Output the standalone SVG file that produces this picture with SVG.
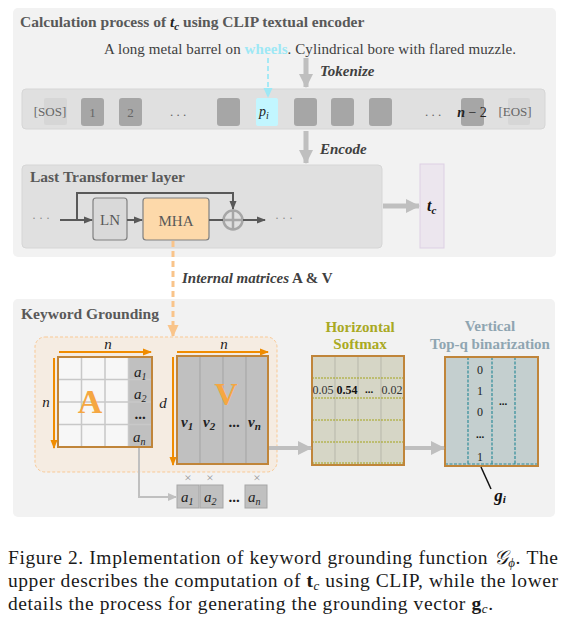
<svg xmlns="http://www.w3.org/2000/svg" width="573" height="629" viewBox="0 0 573 629">
<defs>
<style>
text{font-family:"Liberation Serif","Times New Roman",serif;}
.ttl{font-size:15.5px;font-weight:bold;fill:#595959;}
.tok{font-size:13px;fill:#666;}
.bi{font-weight:bold;font-style:italic;}
.it{font-style:italic;}
.m{font-size:15px;fill:#222;}
.cap{font-size:19.5px;fill:#1a1a1a;}
.gbox{fill:#a6a6a6;}
.cell{fill:#c0c0c0;}
.brd{fill:none;stroke:#c0853a;stroke-width:2;}
</style>
<marker id="mGray" markerUnits="userSpaceOnUse" markerWidth="16" markerHeight="16" refX="13" refY="8" orient="auto"><path d="M0,1 L14,8 L0,15 Z" fill="#bfbfbf"/></marker>
<marker id="mDark" markerUnits="userSpaceOnUse" markerWidth="10" markerHeight="10" refX="8" refY="5" orient="auto"><path d="M0,1.5 L9,5 L0,8.5 Z" fill="#595959"/></marker>
<marker id="mOr" markerUnits="userSpaceOnUse" markerWidth="10" markerHeight="10" refX="8" refY="5" orient="auto"><path d="M0,1.5 L9,5 L0,8.5 Z" fill="#f08c00"/></marker>
<marker id="mCy" markerUnits="userSpaceOnUse" markerWidth="12" markerHeight="12" refX="9" refY="6" orient="auto"><path d="M0,1.5 L10,6 L0,10.5 Z" fill="#9ee8f5"/></marker>
<marker id="mPe" markerUnits="userSpaceOnUse" markerWidth="14" markerHeight="14" refX="11" refY="7" orient="auto"><path d="M0,1.5 L12,7 L0,12.5 Z" fill="#f9c48a"/></marker>
<marker id="mLt" markerUnits="userSpaceOnUse" markerWidth="10" markerHeight="10" refX="8" refY="5" orient="auto"><path d="M0,1 L9,5 L0,9 Z" fill="#c0c0c0"/></marker>
</defs>

<!-- Top panel -->
<g id="top-panel">
<rect x="13" y="8" width="543" height="249" rx="5" fill="#f2f2f2"/>
<text class="ttl" x="20" y="27">Calculation process of <tspan class="bi" fill="#222">t</tspan><tspan class="bi" fill="#222" font-size="11" dy="3">c</tspan><tspan dy="-3"> using CLIP textual encoder</tspan></text>
<text x="104" y="54" font-size="15" fill="#404040" textLength="412" lengthAdjust="spacing">A long metal barrel on <tspan font-weight="bold" fill="#9ee8f5">wheels</tspan>. Cylindrical bore with flared muzzle.</text>
</g>

<g id="token-bar">
<rect x="22" y="89" width="523" height="40" rx="4" fill="#e0e0e0" stroke="#d6d6d6"/>
<rect x="44" y="98" width="23" height="27" rx="2" fill="#d6d6d6"/>
<text class="tok" x="50" y="116" text-anchor="middle">[SOS]</text>
<rect class="gbox" x="81" y="98" width="23" height="28" rx="3"/>
<text class="tok" x="92.5" y="117" text-anchor="middle" fill="#333">1</text>
<rect class="gbox" x="119" y="98" width="23" height="28" rx="3"/>
<text class="tok" x="130.5" y="117" text-anchor="middle" fill="#333">2</text>
<text class="tok" x="178" y="116" text-anchor="middle" fill="#888">. . .</text>
<rect class="gbox" x="217" y="98" width="23" height="28" rx="3"/>
<rect x="256" y="98" width="22" height="28" rx="2" fill="#c2f6ff"/>
<text x="264" y="116" font-size="14" class="it" fill="#222" text-anchor="middle">p<tspan font-size="10" dy="3">i</tspan></text>
<rect class="gbox" x="294" y="98" width="23" height="28" rx="3"/>
<rect class="gbox" x="331" y="98" width="23" height="28" rx="3"/>
<rect class="gbox" x="369" y="98" width="23" height="28" rx="3"/>
<text class="tok" x="433" y="116" text-anchor="middle" fill="#888">. . .</text>
<rect class="gbox" x="461" y="98" width="23" height="28" rx="3"/>
<text x="472" y="117" font-size="14" fill="#222" text-anchor="middle"><tspan class="bi">n</tspan> − 2</text>
<rect x="508" y="98" width="22" height="27" rx="2" fill="#d6d6d6"/>
<text class="tok" x="515" y="116" text-anchor="middle">[EOS]</text>
</g>

<g id="transformer">
<rect x="22" y="165" width="360" height="83" rx="4" fill="#e0e0e0" stroke="#d6d6d6"/>
<text class="ttl" x="30" y="182">Last Transformer layer</text>
<text x="41" y="222" font-size="12" fill="#888" text-anchor="middle">· · ·</text>
<text x="284" y="222" font-size="12" fill="#888" text-anchor="middle">· · ·</text>
</g>
<g id="ln">
<rect x="93" y="198" width="34" height="42" rx="3" fill="#d9d9d9" stroke="#808080" stroke-width="1.2"/>
<text x="110" y="225" font-size="15" fill="#595959" text-anchor="middle">LN</text>
</g>
<g id="mha">
<rect x="143" y="198" width="66" height="42" rx="3" fill="#fdd9aa" stroke="#808080" stroke-width="1.2"/>
<text x="176" y="226" font-size="15" fill="#595959" text-anchor="middle">MHA</text>
</g>
<g id="add">
<circle cx="233" cy="220" r="9.5" fill="none" stroke="#a6a6a6" stroke-width="2.5"/>
<path d="M223.5,220 H242.5 M233,210.5 V229.5" stroke="#a6a6a6" stroke-width="2.5"/>
</g>
<g id="tc">
<rect x="420" y="164" width="24" height="84" fill="#ece6ee" stroke="#ddd0e4"/>
<text x="427" y="211" font-size="16" class="bi" fill="#111">t<tspan font-size="11" dy="3">c</tspan></text>
</g>

<!-- Bottom panel -->
<g id="bottom-panel">
<rect x="13" y="299" width="542" height="218" rx="5" fill="#f2f2f2"/>
<text class="ttl" x="21" y="319">Keyword Grounding</text>
<rect x="35" y="337" width="242" height="135" rx="10" fill="#f5ece2" stroke="#f9c995" stroke-width="1" stroke-dasharray="3,2"/>
</g>

<g id="matrix-A">
<rect x="58" y="357" width="94" height="90" fill="#f7f7f7"/>
<rect class="cell" x="128.5" y="357" width="23.5" height="90"/>
<path d="M81.5,357 V447 M105,357 V447 M128.5,357 V447 M58,379.5 H152 M58,402 H152 M58,424.5 H152" stroke="#c8c8c8" stroke-width="1.5"/>
<rect class="brd" x="58" y="357" width="94" height="90"/>
<text x="90" y="413" font-size="34" font-weight="bold" fill="#f5a742" text-anchor="middle">A</text>
<text class="m it" x="134" y="377">a<tspan font-size="10" dy="3">1</tspan></text>
<text class="m it" x="134" y="399">a<tspan font-size="10" dy="3">2</tspan></text>
<text class="m" x="140" y="419" font-weight="bold" text-anchor="middle" font-size="12">...</text>
<text class="m it" x="133" y="442">a<tspan font-size="10" dy="3">n</tspan></text>
<text class="m it" x="108" y="349" font-size="16" text-anchor="middle">n</text>
<text class="m it" x="46" y="407" font-size="16" text-anchor="middle">n</text>
</g>

<g id="matrix-V">
<rect class="cell" x="177" y="356" width="91" height="108"/>
<path d="M200,356 V464 M223,356 V464 M246,356 V464" stroke="#a8a8a8" stroke-width="1.2"/>
<rect class="brd" x="177" y="356" width="91" height="108"/>
<text x="226" y="405" font-size="32" font-weight="bold" fill="#f5a742" text-anchor="middle">V</text>
<text class="m bi" x="181" y="427" font-size="17">v<tspan font-size="11" dy="3">1</tspan></text>
<text class="m bi" x="203" y="427" font-size="17">v<tspan font-size="11" dy="3">2</tspan></text>
<text class="m" x="234" y="427" font-weight="bold" text-anchor="middle" font-size="12">...</text>
<text class="m bi" x="248" y="427" font-size="17">v<tspan font-size="11" dy="3">n</tspan></text>
<text class="m it" x="224" y="349" font-size="16" text-anchor="middle">n</text>
<text class="m it" x="163" y="408" font-size="16" text-anchor="middle">d</text>
</g>

<g id="weights">
<text x="188" y="482" font-size="13" fill="#999" text-anchor="middle">×</text>
<text x="210" y="482" font-size="13" fill="#999" text-anchor="middle">×</text>
<text x="257" y="482" font-size="13" fill="#999" text-anchor="middle">×</text>
<rect class="cell" x="177" y="485" width="22" height="23" stroke="#a6a6a6"/>
<rect class="cell" x="200" y="485" width="23" height="23" stroke="#a6a6a6"/>
<rect class="cell" x="245" y="485" width="22" height="23" stroke="#a6a6a6"/>
<text class="m it" x="181" y="502">a<tspan font-size="10" dy="3">1</tspan></text>
<text class="m it" x="204" y="502">a<tspan font-size="10" dy="3">2</tspan></text>
<text class="m" x="234" y="502" font-weight="bold" text-anchor="middle" font-size="12">...</text>
<text class="m it" x="248" y="502">a<tspan font-size="10" dy="3">n</tspan></text>
</g>

<g id="softmax">
<text x="360" y="332" font-size="15" font-weight="bold" fill="#a9a923" text-anchor="middle">Horizontal</text>
<text x="360" y="349" font-size="15" font-weight="bold" fill="#a9a923" text-anchor="middle">Softmax</text>
<rect x="312" y="356" width="92" height="109" fill="#d6d6c6"/>
<path d="M335,356 V465 M358,356 V465 M381,356 V465" stroke="#bcbcb0" stroke-width="1.2"/>
<path d="M312,378 H404 M312,398 H404 M312,420 H404 M312,442 H404 M312,463 H404" stroke="#a3a31a" stroke-width="1.2" stroke-dasharray="2,1"/>
<rect class="brd" x="312" y="356" width="92" height="109"/>
<text x="323" y="394" font-size="12" fill="#333" text-anchor="middle">0.05</text>
<text x="347" y="394" font-size="12" font-weight="bold" fill="#111" text-anchor="middle">0.54</text>
<text x="369" y="393" font-size="11" font-weight="bold" fill="#111" text-anchor="middle">...</text>
<text x="392" y="394" font-size="12" fill="#333" text-anchor="middle">0.02</text>
</g>

<g id="binarization">
<text x="490" y="331" font-size="15" font-weight="bold" fill="#8fa5b1" text-anchor="middle">Vertical</text>
<text x="490" y="349" font-size="15" font-weight="bold" fill="#8fa5b1" text-anchor="middle">Top-q binarization</text>
<rect x="445" y="357" width="93" height="109" fill="#c4cfcf"/>
<path d="M468,357 V466 M492,357 V466 M515,357 V466 M445,464 H538" stroke="#2f8c99" stroke-width="1.2" stroke-dasharray="3,1.5"/>
<rect class="brd" x="445" y="357" width="93" height="109"/>
<text x="480" y="374" font-size="12" fill="#222" text-anchor="middle">0</text>
<text x="480" y="395" font-size="12" fill="#222" text-anchor="middle">1</text>
<text x="480" y="416" font-size="12" fill="#222" text-anchor="middle">0</text>
<text x="480" y="438" font-size="11" font-weight="bold" fill="#111" text-anchor="middle">...</text>
<text x="480" y="461" font-size="12" fill="#222" text-anchor="middle">1</text>
<text x="503" y="405" font-size="11" font-weight="bold" fill="#111" text-anchor="middle">...</text>
<text x="500" y="501" font-size="17" class="bi" fill="#111" text-anchor="middle">g<tspan font-size="11" dy="2">i</tspan></text>
</g>

<!-- Connectors -->
<g id="connectors" fill="none">
<line x1="306" y1="58" x2="306" y2="87" stroke="#bfbfbf" stroke-width="5" marker-end="url(#mGray)"/>
<line x1="268" y1="58" x2="268" y2="97" stroke="#9ee8f5" stroke-width="1.8" stroke-dasharray="5,3" marker-end="url(#mCy)"/>
<line x1="306" y1="131" x2="306" y2="163" stroke="#bfbfbf" stroke-width="5" marker-end="url(#mGray)"/>
<path d="M60,220 H92" stroke="#595959" stroke-width="2" marker-end="url(#mDark)"/>
<path d="M77,220 V193 H233 V209" stroke="#595959" stroke-width="2" marker-end="url(#mDark)"/>
<path d="M127,220 H142" stroke="#595959" stroke-width="2" marker-end="url(#mDark)"/>
<path d="M209,220 H223" stroke="#595959" stroke-width="2"/>
<path d="M243,220 H265" stroke="#595959" stroke-width="2" marker-end="url(#mDark)"/>
<line x1="383" y1="206" x2="419" y2="206" stroke="#bfbfbf" stroke-width="5" marker-end="url(#mGray)"/>
<line x1="173" y1="241" x2="173" y2="336" stroke="#f9c48a" stroke-width="3" stroke-dasharray="6,4" marker-end="url(#mPe)"/>
<line x1="59" y1="352" x2="151" y2="352" stroke="#f08c00" stroke-width="2" marker-end="url(#mOr)"/>
<line x1="54" y1="358" x2="54" y2="448" stroke="#f08c00" stroke-width="2" marker-end="url(#mOr)"/>
<line x1="177" y1="352" x2="268" y2="352" stroke="#f08c00" stroke-width="2" marker-end="url(#mOr)"/>
<line x1="173" y1="357" x2="173" y2="465" stroke="#f08c00" stroke-width="2" marker-end="url(#mOr)"/>
<path d="M139,448 V497 H176" stroke="#c0c0c0" stroke-width="2" marker-end="url(#mLt)"/>
<line x1="269" y1="448" x2="311" y2="448" stroke="#bfbfbf" stroke-width="4" marker-end="url(#mGray)"/>
<line x1="405" y1="448" x2="444" y2="448" stroke="#bfbfbf" stroke-width="4" marker-end="url(#mGray)"/>
<line x1="481" y1="467" x2="491" y2="489" stroke="#111" stroke-width="1.5"/>
</g>

<g id="labels">
<text x="320" y="76" font-size="15" class="bi" fill="#404040">Tokenize</text>
<text x="320" y="154" font-size="15" class="bi" fill="#404040">Encode</text>
<text x="182" y="283" font-size="15" font-weight="bold" fill="#404040"><tspan font-style="italic">Internal matrices</tspan>  A &amp; V</text>
</g>

<g id="caption">
<text class="cap" x="8" y="564" textLength="550" lengthAdjust="spacing">Figure 2. Implementation of keyword grounding function <tspan font-style="italic">𝒢</tspan><tspan font-size="13" font-style="italic" dy="3">ϕ</tspan><tspan dy="-3">. The</tspan></text>
<text class="cap" x="8" y="587" textLength="550" lengthAdjust="spacing">upper describes the computation of <tspan font-weight="bold">t</tspan><tspan font-size="13" font-style="italic" dy="3">c</tspan><tspan dy="-3"> using CLIP, while the lower</tspan></text>
<text class="cap" x="8" y="610" textLength="485" lengthAdjust="spacing">details the process for generating the grounding vector <tspan font-weight="bold">g</tspan><tspan font-size="13" font-style="italic" dy="3">c</tspan><tspan dy="-3">.</tspan></text>
</g>
</svg>
